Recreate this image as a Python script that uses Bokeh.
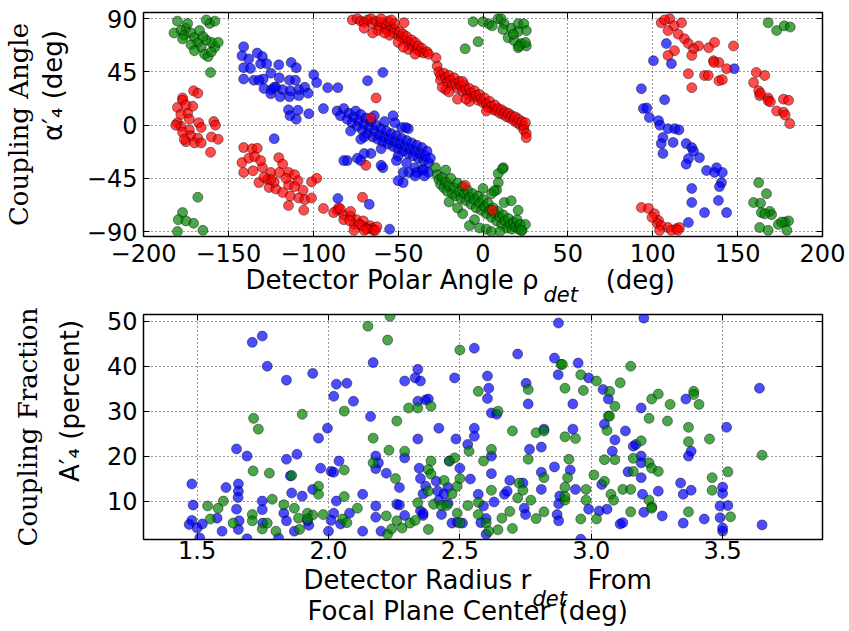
import math
from bokeh.plotting import figure
from bokeh.layouts import column
from bokeh.models import Range1d, Title, LinearAxis
from bokeh.embed import file_html
from bokeh.resources import INLINE

# ---------------- top panel: coupling angle vs detector polar angle ----------------
red_pts = [
    (-170.5, 29), (-168, 27), (-177, 23), (-177, 21), (-180, 15), (-171, 16), (-174, 10), (-173, 5),
    (-180, 2), (-178, -1), (-173, -4), (-177, -6), (-172, -9), (-167.5, 2), (-166, -2), (-168, -11),
    (-175, -14), (-170, -15), (-166, -15), (-158.6, 3), (-157.6, 0), (-160, -10), (-156, -12),
    (-160.5, -23), (-178, 9), (-175, 17), (-181, 0), (-176, -12),
    (-141, -19), (-136, -20), (-133, -19.6), (-142, -31.7), (-138, -28), (-134.5, -26.6), (-141, -40),
    (-135.5, -38.6), (-132, -48.6), (-127, -46), (-125, -40), (-120.3, -27.5), (-118, -33), (-120, -40),
    (-114.5, -40), (-111, -42), (-109, -47), (-126, -52.8), (-122, -54), (-118, -57), (-113.5, -60),
    (-108.5, -61.6), (-105, -63), (-101, -61.6), (-98, -45), (-101, -48), (-114.6, -68), (-105.6, -72),
    (-94, -70.5), (-123, -48), (-130, -35.8), (-114.5, -50.5), (-111, -52), (-125, -46), (-129, -44),
    (-116, -45), (-106, -55), (-131, -30),
    (-86, -72), (-82, -76), (-78, -77), (-74.5, -80), (-70.5, -81), (-82, -80), (-76, -84), (-71.5, -85),
    (-66.5, -85), (-65, -87.5), (-68.5, -87.5), (-78, -73), (-85, -70), (-88, -74), (-78.5, -80.9),
    (-72.9, -84), (-64.5, -89), (-68.5, -88), (-76, -89), (-70, -89), (-62.5, -86), (-84, -71), (-63.5, -89),
    (-77, 89), (-74, 90), (-72, 88), (-70, 87), (-68, 89), (-66, 90), (-65, 86), (-63, 88), (-61, 84),
    (-60, 87), (-58, 82), (-57, 85), (-56, 80), (-54, 83), (-53, 78), (-52, 81), (-50, 76), (-49, 79),
    (-48, 74), (-47, 77), (-46, 72), (-45, 75), (-44, 70), (-43, 68), (-42, 72), (-41, 66), (-40, 70),
    (-39, 64), (-38, 67), (-37, 62), (-36, 65), (-35, 61), (-33, 62), (-32, 60), (-62, 80), (-55, 76),
    (-50, 70), (-58, 78), (-44, 64), (-70, 82), (-56, 88), (-52, 86), (-47, 66), (-40, 60), (-65, 78),
    (-46.5, 86.6), (-60, 90), (-54, 89),
    (-27, 50), (-26, 45), (-25, 42), (-25, 38), (-23, 44), (-22, 40), (-21, 36), (-20, 42), (-19, 38),
    (-18, 34), (-17, 40), (-16, 35), (-15, 31), (-14, 37), (-13, 33), (-12, 29), (-11, 34), (-10, 30),
    (-9, 26), (-8, 31), (-7, 27), (-6, 24), (-5, 29), (-4, 25), (-3, 21), (-2, 26), (-1, 22), (0, 19),
    (1, 23), (2, 18), (3, 15), (4, 20), (5, 16), (6, 13), (7, 17), (8, 12), (9, 14), (10, 10), (11, 13),
    (12, 9), (13, 11), (14, 7), (15, 10), (16, 6), (17, 8), (18, 4), (19, 7), (20, 2), (21, 5), (22, 0),
    (23, 3), (24, -1), (25, 2), (24, -4), (25.5, -7), (-22, 30), (-15, 22), (-8, 20), (-24, 32), (-10, 22),
    (2, 12), (-12, 37), (-20, 28), (25.5, -10.6),
    (-63, 23), (-66, 6), (-69, -34), (-71, -61), (-10.5, -51), (5.4, -72), (-27.7, 57),
    (105, 86.6), (110, 90), (117, 86.6), (112.5, 84), (109, 80), (115, 77), (118.7, 73), (121, 69),
    (127, 67), (133, 65.5), (136.4, 70), (124, 64.6), (112.8, 63), (109, 59), (123, 59), (135.8, 54.5),
    (139, 53), (143.5, 47.7), (147.6, 67), (121, 43.5), (130.5, 42), (132.7, 42), (139, 37.6), (123, 31.7),
    (141, 38.5), (136, 53), (107, 89),
    (161, 44.6), (166, 42), (159.4, 36), (162.4, 29), (163, 25), (168, 23), (168, 20.6), (169.3, 19.7),
    (177, 22), (180, 21), (173, 12), (177, 11), (178, 8.5), (180.7, 1.3), (163.5, 27),
    (93.3, -69.7), (97.5, -70.5), (101, -75), (103.4, -80.7), (102.6, -83), (105, -85), (109, -86.6),
    (114, -87.5), (115.8, -86.6), (104, -89), (111, -89), (99.6, -78), (114.8, -89),
]

blue_pts = [
    (-141, 66.3), (-142, 58.7), (-138, 56), (-133, 61), (-130, 58), (-141, 48.6), (-137, 48), (-131, 52),
    (-127.4, 52), (-120.3, 51), (-113, 53), (-110, 48.6), (-141, 39), (-135, 38), (-129.5, 39), (-125, 44),
    (-120, 40), (-114, 38), (-110.5, 38), (-99.7, 42.7), (-98, 36), (-129, 31), (-124.5, 30), (-122, 32),
    (-118, 30), (-113.5, 29), (-108.5, 30), (-105, 32), (-103, 27), (-125, 26.5), (-119.5, 24), (-114, 24),
    (-108.5, 25), (-114.6, 13), (-109, 12.6), (-102.6, 9.7), (-113.7, 8), (-110, 5), (-123, 32), (-132, 38),
    (-123, -11.5), (-94, 14), (-91.5, 31.7),
    (-86, 12), (-84, 8), (-82, 14), (-80, 5), (-79, 10), (-77, 2), (-76, 7), (-75, 12), (-74, -1), (-73, 4),
    (-72, 9), (-71, -4), (-70, 1), (-69, 6), (-68, -7), (-67, -2), (-66, 3), (-65, -10), (-64, -5), (-63, 0),
    (-62, -12), (-61, -8), (-60, -3), (-59, -14), (-58, -10), (-57, -5), (-56, -16), (-55, -12), (-54, -7),
    (-53, -18), (-52, -14), (-51, -9), (-50, -20), (-49, -16), (-48, -11), (-47, -22), (-46, -18), (-45, -13),
    (-44, -24), (-43, -20), (-42, -15), (-41, -26), (-40, -22), (-39, -17), (-38, -28), (-37, -24), (-36, -19),
    (-35, -30), (-34, -26), (-33, -22), (-32, -32), (-31, -28), (-60, -20), (-70, -10), (-50, -26), (-45, -32),
    (-40, -36), (-36, -38), (-32, -40), (-58, 3), (-64, 8), (-72, -12), (-78, -5), (-66, -24),
    (-48, -2), (-52, 2), (-44, -3), (-51, -30), (-47, -40), (-43.6, -40), (-39, -40), (-35, -38), (-59, -36),
    (-47, -48.6), (-50, -47), (-40, -43), (-34.5, -43), (-60, -34), (-74, -28), (-70, -24), (-72, -30),
    (-80, -30), (-45.5, -2), (-53, 8), (-82, -30),
    (-68, 37.6), (-59, 44.6), (-85.5, 31.7), (-85.5, -62), (-67, -67), (-55, -88),
    (108, 69), (100.4, 54.5), (111, 52), (148, 47.7), (93.3, 30.8), (107, 21.5), (94.5, 14), (96.5, 14.5),
    (98, 6.4), (103.4, 3.8), (104.2, 0), (109, -3), (113, -3), (115.4, -4), (106, -10.5), (112, -14.6),
    (105, -15.6), (106, -24), (119.7, -15.6), (123, -19), (124, -22), (127.5, -27.5), (121, -28.4),
    (119.7, -33), (131.7, -38.4), (137.6, -36), (136.4, -40), (141, -40), (140.5, -48.6), (139.3, -52),
    (123, -53.6), (123, -65.5), (138.7, -63.8), (130.5, -74), (143.5, -74), (121, -82.4),
]

green_pts = [
    (-180, 88), (-175, 82), (-178, 80), (-182, 78), (-176, 76), (-172, 78), (-170, 74), (-168, 70),
    (-172, 68), (-166, 66), (-170, 63), (-164, 60), (-162, 58), (-160, 62), (-158, 66), (-160, 70),
    (-163, 72), (-165, 75), (-161, 86), (-158, 88), (-163, 89), (-174, 86), (-177, 73), (-167, 80),
    (-156, 70), (-160.5, 44.6),
    (-168, -61), (-177, -74), (-179.5, -80), (-170.5, -83), (-180, -90), (-165, -89), (-175, -81),
    (-5.8, 87.5), (0, 87.5), (3.6, 85.6), (8.9, 90), (12.5, 85.8), (16.6, 82), (20.7, 85.8), (24, 85.8),
    (25.5, 80), (20.6, 79), (14.8, 74), (18.4, 71.4), (22.5, 69), (20.7, 65.5), (25.5, 67), (-2.9, 70.6),
    (-10.5, 64.6), (5.4, 84), (11.7, 81), (17.8, 77), (10.7, 90), (21.3, 67), (25, 70),
    (-28, -36), (-27, -42), (-26, -46), (-25, -50), (-24, -44), (-23, -53), (-22, -48), (-21, -56),
    (-20, -51), (-19, -45), (-18, -58), (-17, -53), (-16, -60), (-15, -49), (-14, -56), (-13, -62),
    (-12, -52), (-11, -58), (-10, -64), (-9, -55), (-8, -61), (-7, -67), (-6, -58), (-5, -63), (-4, -70),
    (-3, -60), (-2, -66), (-1, -72), (0, -63), (1, -69), (2, -75), (3, -66), (4, -72), (5, -78), (6, -70),
    (7, -75), (8, -81), (9, -73), (10, -78), (11, -84), (12, -76), (13, -81), (14, -87), (15, -79),
    (16, -84), (17, -88), (18, -82), (19, -86), (20, -80), (21, -88), (22, -84), (23, -89), (-20, -65),
    (-12, -75), (-5, -80), (-2, -87), (2, -88), (5, -90), (-8, -85), (10, -90), (25, -84), (-15, -70),
    (-22, -38), (12, -36), (9, -41), (9, -48.6), (8, -55), (5, -58), (0, -53.6), (12.5, -65.5),
    (20.7, -72), (16.6, -64), (11.5, -37), (6.6, -55.6), (22.5, -89),
    (168, 86.6), (173, 80), (177.5, 84), (181, 83),
    (162.4, -48.6), (167, -58), (159.4, -65.5), (163.5, -66), (164, -74), (169, -73), (170, -75.7),
    (166, -75), (163, -86.6), (168, -89), (174, -84), (178, -82), (180, -81), (179, -89), (176, -82),
]

top_xticks = [-200, -150, -100, -50, 0, 50, 100, 150, 200]
top_yticks = [-90, -45, 0, 45, 90]

# ---------------- bottom panel: coupling fraction vs detector radius ----------------
blue_frac = [
    (1.48, 13.8), (1.485, 9.1), (1.48, 5.7), (1.47, 4.8), (1.5, 4.0), (1.51, 1.8), (1.52, 4.9), (1.576, 6.2),
    (1.595, 3.3), (1.61, 13.0), (1.65, 21.6), (1.657, 13.8), (1.657, 12.2), (1.656, 10.8), (1.65, 8.2),
    (1.66, 5.6), (1.657, 3.7), (1.69, 20.0), (1.71, 45.3), (1.748, 46.7), (1.767, 40.0), (1.748, 10.0),
    (1.748, 8.1), (1.75, 5.1), (1.69, 1.6), (1.81, 1.8), (1.84, 36.9), (1.84, 19.3), (1.88, 20.4),
    (1.86, 11.8), (1.855, 15.6), (1.83, 7.3), (1.84, 5.6), (1.87, 3.3), (1.9, 11.1), (1.92, 5.6),
    (1.925, 4.6), (1.94, 38.4), (1.962, 24.0), (1.94, 12.6), (1.97, 17.3), (1.996, 26.2), (2.0, 3.3),
    (2.02, 33.3), (2.03, 36.0), (2.07, 36.2), (2.095, 32.2), (2.04, 18.9), (2.01, 16.6), (2.02, 16.4),
    (2.03, 10.0), (2.02, 7.3), (2.01, 5.7), (2.046, 4.9), (2.08, 7.3), (2.13, 3.3), (2.13, 11.5),
    (2.16, 28.8), (2.17, 40.8), (2.18, 20.0), (2.18, 17.2), (2.18, 8.9), (2.18, 6.4), (2.2, 3.3),
    (2.22, 16.2), (2.19, 18.5), (2.27, 13.0), (2.26, 9.3), (2.27, 9.1), (2.29, 36.7), (2.29, 19.6),
    (2.29, 6.8), (2.34, 39.3), (2.33, 37.4), (2.35, 36.7), (2.34, 32.2), (2.37, 32.5), (2.34, 23.8),
    (2.345, 17.3), (2.35, 15.0), (2.36, 11.6), (2.35, 7.8), (2.36, 6.8), (2.38, 32.7), (2.37, 13.3),
    (2.36, 7.3), (2.41, 14.4), (2.42, 26.2), (2.48, 37.4), (2.46, 18.9), (2.485, 23.8), (2.5, 17.3),
    (2.455, 13.0), (2.416, 12.2), (2.44, 11.6), (2.42, 10.2), (2.455, 9.5), (2.47, 5.1), (2.49, 5.3),
    (2.51, 5.1), (2.43, 7.0), (2.555, 44.0), (2.54, 14.9), (2.53, 22.6), (2.555, 26.2), (2.555, 24.4),
    (2.57, 11.5), (2.59, 8.9), (2.605, 37.8), (2.61, 35.1), (2.605, 32.8), (2.62, 29.6), (2.64, 29.3),
    (2.62, 20.0), (2.62, 16.1), (2.63, 9.8), (2.6, 6.1), (2.58, 5.2), (2.6, 2.6), (2.67, 11.5), (2.68, 12.2),
    (2.69, 14.6), (2.72, 42.7), (2.74, 14.0), (2.745, 8.4), (2.75, 7.0), (2.752, 36.2), (2.76, 31.6),
    (2.765, 21.5), (2.81, 12.6), (2.81, 16.4), (2.82, 26.0), (2.81, 22.0), (2.86, 41.8), (2.86, 17.6),
    (2.874, 38.1), (2.88, 11.1), (2.876, 9.4), (2.87, 7.0), (2.876, 5.6), (2.875, 49.6), (2.93, 31.6),
    (2.93, 26.0), (2.92, 16.9), (2.95, 40.7), (2.94, 12.6), (2.99, 37.4), (2.99, 8.2), (2.96, 1.5),
    (3.04, 13.7), (3.045, 34.8), (3.05, 27.1), (3.03, 7.8), (3.06, 8.2), (3.065, 32.7), (3.08, 21.1),
    (3.09, 23.6), (3.11, 4.9), (3.12, 5.2), (3.13, 25.6), (3.14, 16.5), (3.19, 30.7), (3.16, 22.2),
    (3.17, 22.6), (3.19, 20.0), (3.19, 18.5), (3.19, 15.2), (3.195, 11.5), (3.2, 7.5), (3.2, 50.7),
    (3.255, 12.2), (3.27, 6.7), (3.34, 14.0), (3.35, 11.5), (3.35, 5.1), (3.36, 32.7), (3.37, 20.0),
    (3.38, 21.1), (3.38, 12.4), (3.43, 6.0), (3.49, 8.9), (3.49, 6.3), (3.5, 3.3), (3.5, 4.0), (3.5, 11.7),
    (3.5, 13.1), (3.515, 26.4), (3.52, 9.0), (3.64, 35.1), (3.65, 4.7),
]

green_frac = [
    (1.54, 8.9), (1.55, 6.0), (1.58, 8.4), (1.6, 10.0), (1.637, 5.1), (1.715, 28.4), (1.733, 26.0),
    (1.713, 16.7), (1.71, 7.0), (1.71, 5.6), (1.748, 3.8), (1.775, 16.2), (1.786, 10.4), (1.767, 5.1),
    (1.8, 3.3), (1.83, 9.2), (1.86, 15.7), (1.87, 8.4), (1.9, 29.3), (1.886, 6.2), (1.89, 3.7),
    (1.92, 7.3), (1.94, 6.9), (1.962, 13.3), (1.962, 11.5), (1.92, 6.0), (1.98, 7.0), (2.06, 30.0),
    (2.06, 16.9), (2.06, 11.0), (2.054, 6.0), (2.07, 5.2), (2.11, 8.4), (2.15, 48.9), (2.225, 45.8),
    (2.234, 51.1), (2.17, 24.0), (2.17, 18.5), (2.23, 21.3), (2.22, 6.7), (2.255, 15.0), (2.26, 27.8),
    (2.29, 21.1), (2.225, 2.6), (2.24, 3.8), (2.26, 5.6), (2.28, 4.0), (2.31, 5.1), (2.33, 5.7),
    (2.305, 30.7), (2.34, 30.7), (2.34, 9.6), (2.38, 12.2), (2.38, 3.7), (2.38, 17.0), (2.39, 31.1),
    (2.39, 18.9), (2.39, 16.0), (2.44, 14.6), (2.4, 9.3), (2.43, 9.0), (2.45, 9.0), (2.47, 11.6),
    (2.46, 18.9), (2.48, 19.6), (2.49, 13.3), (2.5, 15.0), (2.5, 43.6), (2.49, 7.3), (2.5, 5.1),
    (2.535, 21.1), (2.53, 9.0), (2.57, 34.4), (2.57, 9.7), (2.57, 7.0), (2.59, 18.9), (2.6, 5.1),
    (2.61, 3.3), (2.62, 21.5), (2.62, 12.4), (2.645, 30.0), (2.645, 3.6), (2.66, 6.2), (2.69, 7.7),
    (2.7, 3.9), (2.7, 25.6), (2.72, 10.7), (2.725, 14.0), (2.74, 12.4), (2.76, 34.8), (2.76, 19.3),
    (2.77, 10.2), (2.79, 6.1), (2.79, 25.2), (2.82, 25.6), (2.82, 15.2), (2.82, 7.6), (2.885, 40.4),
    (2.89, 40.4), (2.9, 35.1), (2.9, 24.3), (2.9, 10.2), (2.9, 11.0), (2.9, 13.1), (2.91, 15.2),
    (2.94, 23.9), (2.915, 19.3), (2.96, 38.1), (2.97, 34.6), (2.96, 6.0), (2.98, 12.6), (2.98, 10.2),
    (3.02, 36.7), (3.01, 15.8), (3.02, 6.0), (3.05, 19.2), (3.05, 14.4), (3.06, 25.7), (3.065, 28.9),
    (3.07, 34.4), (3.075, 11.5), (3.07, 28.9), (3.09, 31.1), (3.11, 36.3), (3.09, 19.2), (3.085, 10.2),
    (3.15, 40.0), (3.12, 12.6), (3.15, 12.6), (3.15, 7.6), (3.16, 19.5), (3.16, 16.6), (3.19, 23.4),
    (3.22, 28.4), (3.22, 18.5), (3.23, 32.7), (3.23, 17.3), (3.22, 10.2), (3.23, 8.7), (3.255, 33.8),
    (3.255, 16.6), (3.23, 8.4), (3.29, 27.8), (3.3, 31.5), (3.37, 26.4), (3.37, 23.2), (3.37, 7.6),
    (3.39, 34.4), (3.39, 33.7), (3.41, 31.5), (3.45, 23.8), (3.46, 15.2), (3.46, 12.4), (3.52, 16.5),
    (3.53, 6.5), (3.65, 20.2),
]

bot_xticks = [1.5, 2.0, 2.5, 3.0, 3.5]
bot_yticks = [10, 20, 30, 40, 50]

RED, BLUE, GREEN = "#ff0000", "#0000ff", "#008000"
SANS = "DejaVu Sans"
SERIF = "DejaVu Serif"
EM, THIRD, QUARTER, SIXTH = "\u2003", "\u2004", "\u2005", "\u2006"


def unzip(pts):
    return [a for a, _ in pts], [b for _, b in pts]


def style(p, xticks, yticks, x_std, xlabels, ylabels, ylabel, ylabel_std):
    p.outline_line_color = "black"
    p.outline_line_width = 1.5
    p.outline_line_alpha = 1.0
    p.background_fill_color = "white"
    p.border_fill_color = "white"
    xa, ya = p.below[0], p.left[0]
    for ax in (xa, ya):
        ax.axis_line_color = None
        ax.major_tick_in = 6
        ax.major_tick_out = 0
        ax.major_tick_line_color = "black"
        ax.minor_tick_line_color = None
        ax.major_label_text_font = SANS
        ax.major_label_text_font_size = "24px"
        ax.major_label_text_color = "black"
    xa.ticker = xticks
    ya.ticker = yticks
    xa.major_label_overrides = dict(zip(xticks, xlabels))
    ya.major_label_overrides = dict(zip(yticks, ylabels))
    xa.major_label_standoff = x_std
    ya.major_label_standoff = 6
    ya.axis_label = ylabel
    ya.axis_label_text_font = SANS
    ya.axis_label_text_font_size = "26px"
    ya.axis_label_text_font_style = "normal"
    ya.axis_label_text_color = "black"
    ya.axis_label_standoff = ylabel_std
    p.xgrid.ticker = xticks
    p.ygrid.ticker = yticks
    for g in (p.xgrid[0], p.ygrid[0]):
        g.grid_line_color = "black"
        g.grid_line_dash = "1 3"
        g.grid_line_width = 1
        g.grid_line_alpha = 0.8
    # inward tick marks on the top and right edges (no labels there)
    for ticks, side in ((xticks, "above"), (yticks, "right")):
        p.add_layout(LinearAxis(ticker=ticks, axis_line_color=None, major_tick_in=6,
                                major_tick_out=0, major_tick_line_color="black",
                                minor_tick_line_color=None, major_label_standoff=0,
                                major_label_text_font_size="1px",
                                major_label_text_color=None), side)


def piece(p, side, text, size, strip, valign, align="left", offset=0, font=SANS, style_="normal"):
    """A piece of an axis title, in a side strip of (about) the given pixel size."""
    h = 1.164 * size
    p.add_layout(Title(text=text, text_font=font, text_font_size=f"{size}px",
                       text_font_style=style_, text_color="black", align=align,
                       vertical_align=valign, offset=offset, standoff=strip - 2 - h), side)


mk = dict(size=10, line_color="black", line_alpha=0.7, line_width=0.6, fill_alpha=0.7)

# ---------------- top figure ----------------
p1 = figure(width=847, height=308, output_backend="svg", toolbar_location=None,
            x_range=Range1d(-200, 200), y_range=Range1d(-94.2, 95.3),
            min_border_left=143, min_border_right=25, min_border_top=12, min_border_bottom=72)
style(p1, top_xticks, top_yticks, 7,
      [str(t).replace("-", "\u2212") for t in top_xticks],
      [str(t).replace("-", "\u2212") for t in top_yticks],
      EM * 3 + "\u03b1\u2032\u2084 (deg)", 16)

bx, by = unzip(blue_pts)
gx, gy = unzip(green_pts)
rx, ry = unzip(red_pts)
p1.scatter(bx, by, fill_color=BLUE, **mk)
p1.scatter(gx, gy, fill_color=GREEN, **mk)
p1.scatter(rx, ry, fill_color=RED, **mk)

piece(p1, "below", "Detector Polar Angle \u03c1" + EM + EM + THIRD + QUARTER + "(deg)", 26, 29.5,
      "bottom", offset=102)
piece(p1, "below", "det", 21, -1.5, "bottom", offset=400, style_="italic")
piece(p1, "left", "Coupling Angle", 26, 32.3, "bottom", align="center", offset=-1, font=SERIF)

# ---------------- bottom figure ----------------
p2 = figure(width=847, height=323, output_backend="svg", toolbar_location=None,
            x_range=Range1d(1.296, 3.88), y_range=Range1d(1.45, 51.5),
            min_border_left=143, min_border_right=25, min_border_top=6, min_border_bottom=92)
style(p2, bot_xticks, bot_yticks, 1,
      ["%.1f" % t for t in bot_xticks], [str(t) for t in bot_yticks],
      EM * 2 + "A\u2032\u2084 (percent)", 19)

bfx, bfy = unzip(blue_frac)
gfx, gfy = unzip(green_frac)
p2.scatter(bfx, bfy, fill_color=BLUE, **mk)
p2.scatter(gfx, gfy, fill_color=GREEN, **mk)

piece(p2, "below", "Detector Radius r" + EM + EM + SIXTH + "From", 26, 35.2, "bottom", offset=160)
piece(p2, "below", "det", 21, -2.0, "bottom", offset=389, style_="italic")
piece(p2, "below", "Focal Plane Center (deg)", 26, 27.5, "bottom", offset=164)
piece(p2, "left", "Coupling Fraction", 26, 46.6, "top", align="center", offset=2, font=SERIF)

layout = column(p1, p2)
open("out.html", "w").write(file_html(layout, INLINE))
